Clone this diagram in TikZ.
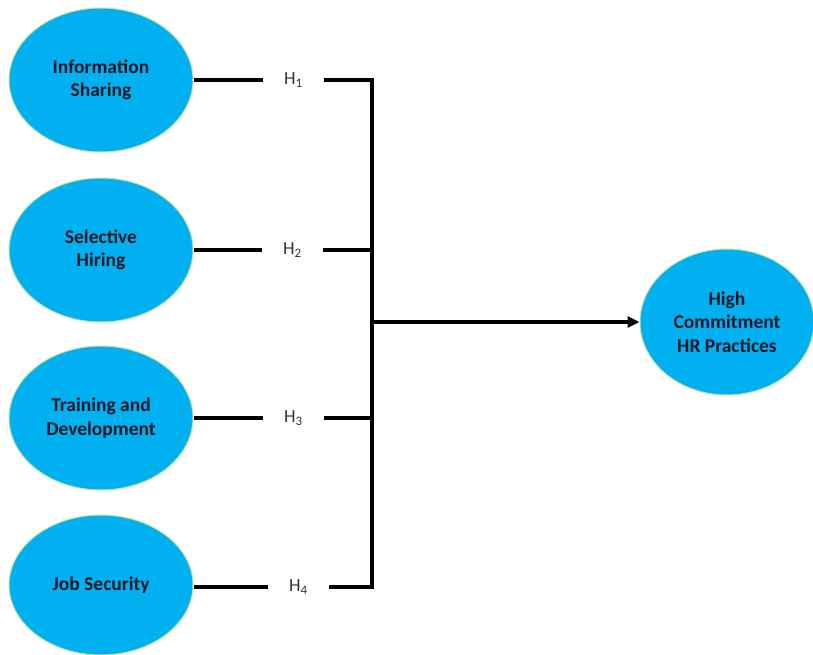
\documentclass[tikz,border=0pt]{standalone}
\usepackage{fontspec}
\setmainfont{Carlito}
\usetikzlibrary{shapes.geometric,arrows.meta}
\definecolor{fillcyan}{RGB}{0,176,240}
\definecolor{rimgreen}{RGB}{200,228,150}
\definecolor{txtnavy}{RGB}{16,24,40}
\tikzset{
  construct/.style={ellipse, fill=fillcyan, draw=rimgreen, line width=1pt,
    minimum width=184pt, minimum height=144pt, inner sep=0pt, align=center,
    text=txtnavy, font=\fontsize{19.5}{23.5}\selectfont\bfseries},
  hyp/.style={minimum width=61pt, inner sep=0pt, font=\fontsize{18.5}{22}\selectfont, text=black!80},
  link/.style={line width=3.2pt, black, line join=miter}
}
\begin{document}
\begin{tikzpicture}[x=1pt,y=-1pt]
\useasboundingbox (0,0) rectangle (813,654);
\node[construct] (e1) at (101,80) {Information\\Sharing};
\node[construct] (e2) at (101,250) {Selective\\Hiring};
\node[construct] (e3) at (101,418) {Training and\\Development};
\node[construct, minimum height=140pt] (e4) at (101,585) {Job Security};
\node[construct, minimum width=174pt, minimum height=146pt] (out) at (727,322) {High\\Commitment\\HR Practices};
\node[hyp] (h1) at (293.5,80) {H\textsubscript{1}};
\node[hyp] (h2) at (292.5,250) {H\textsubscript{2}};
\node[hyp] (h3) at (293.5,418) {H\textsubscript{3}};
\node[hyp] (h4) at (298.5,587) {H\textsubscript{4}};
\coordinate (top) at (372,80);
\coordinate (bot) at (372,587);
\coordinate (mid) at (372,322);
\coordinate (j2) at (372,250);
\coordinate (j3) at (372,418);
\draw[link] (e1.east) -- (h1.west);
\draw[link] (e2.east |- h2.west) -- (h2.west);
\draw[link] (e3.east |- h3.west) -- (h3.west);
\draw[link] (e4.east |- h4.west) -- (h4.west);
\draw[link] (h1.east) -- (top) -- (bot) -- (h4.east);
\draw[link] (h2.east) -- (j2);
\draw[link] (h3.east) -- (j3);
\draw[link, -{Triangle[length=12pt,width=11pt]}] (mid) -- (out.west);
\end{tikzpicture}
\end{document}
